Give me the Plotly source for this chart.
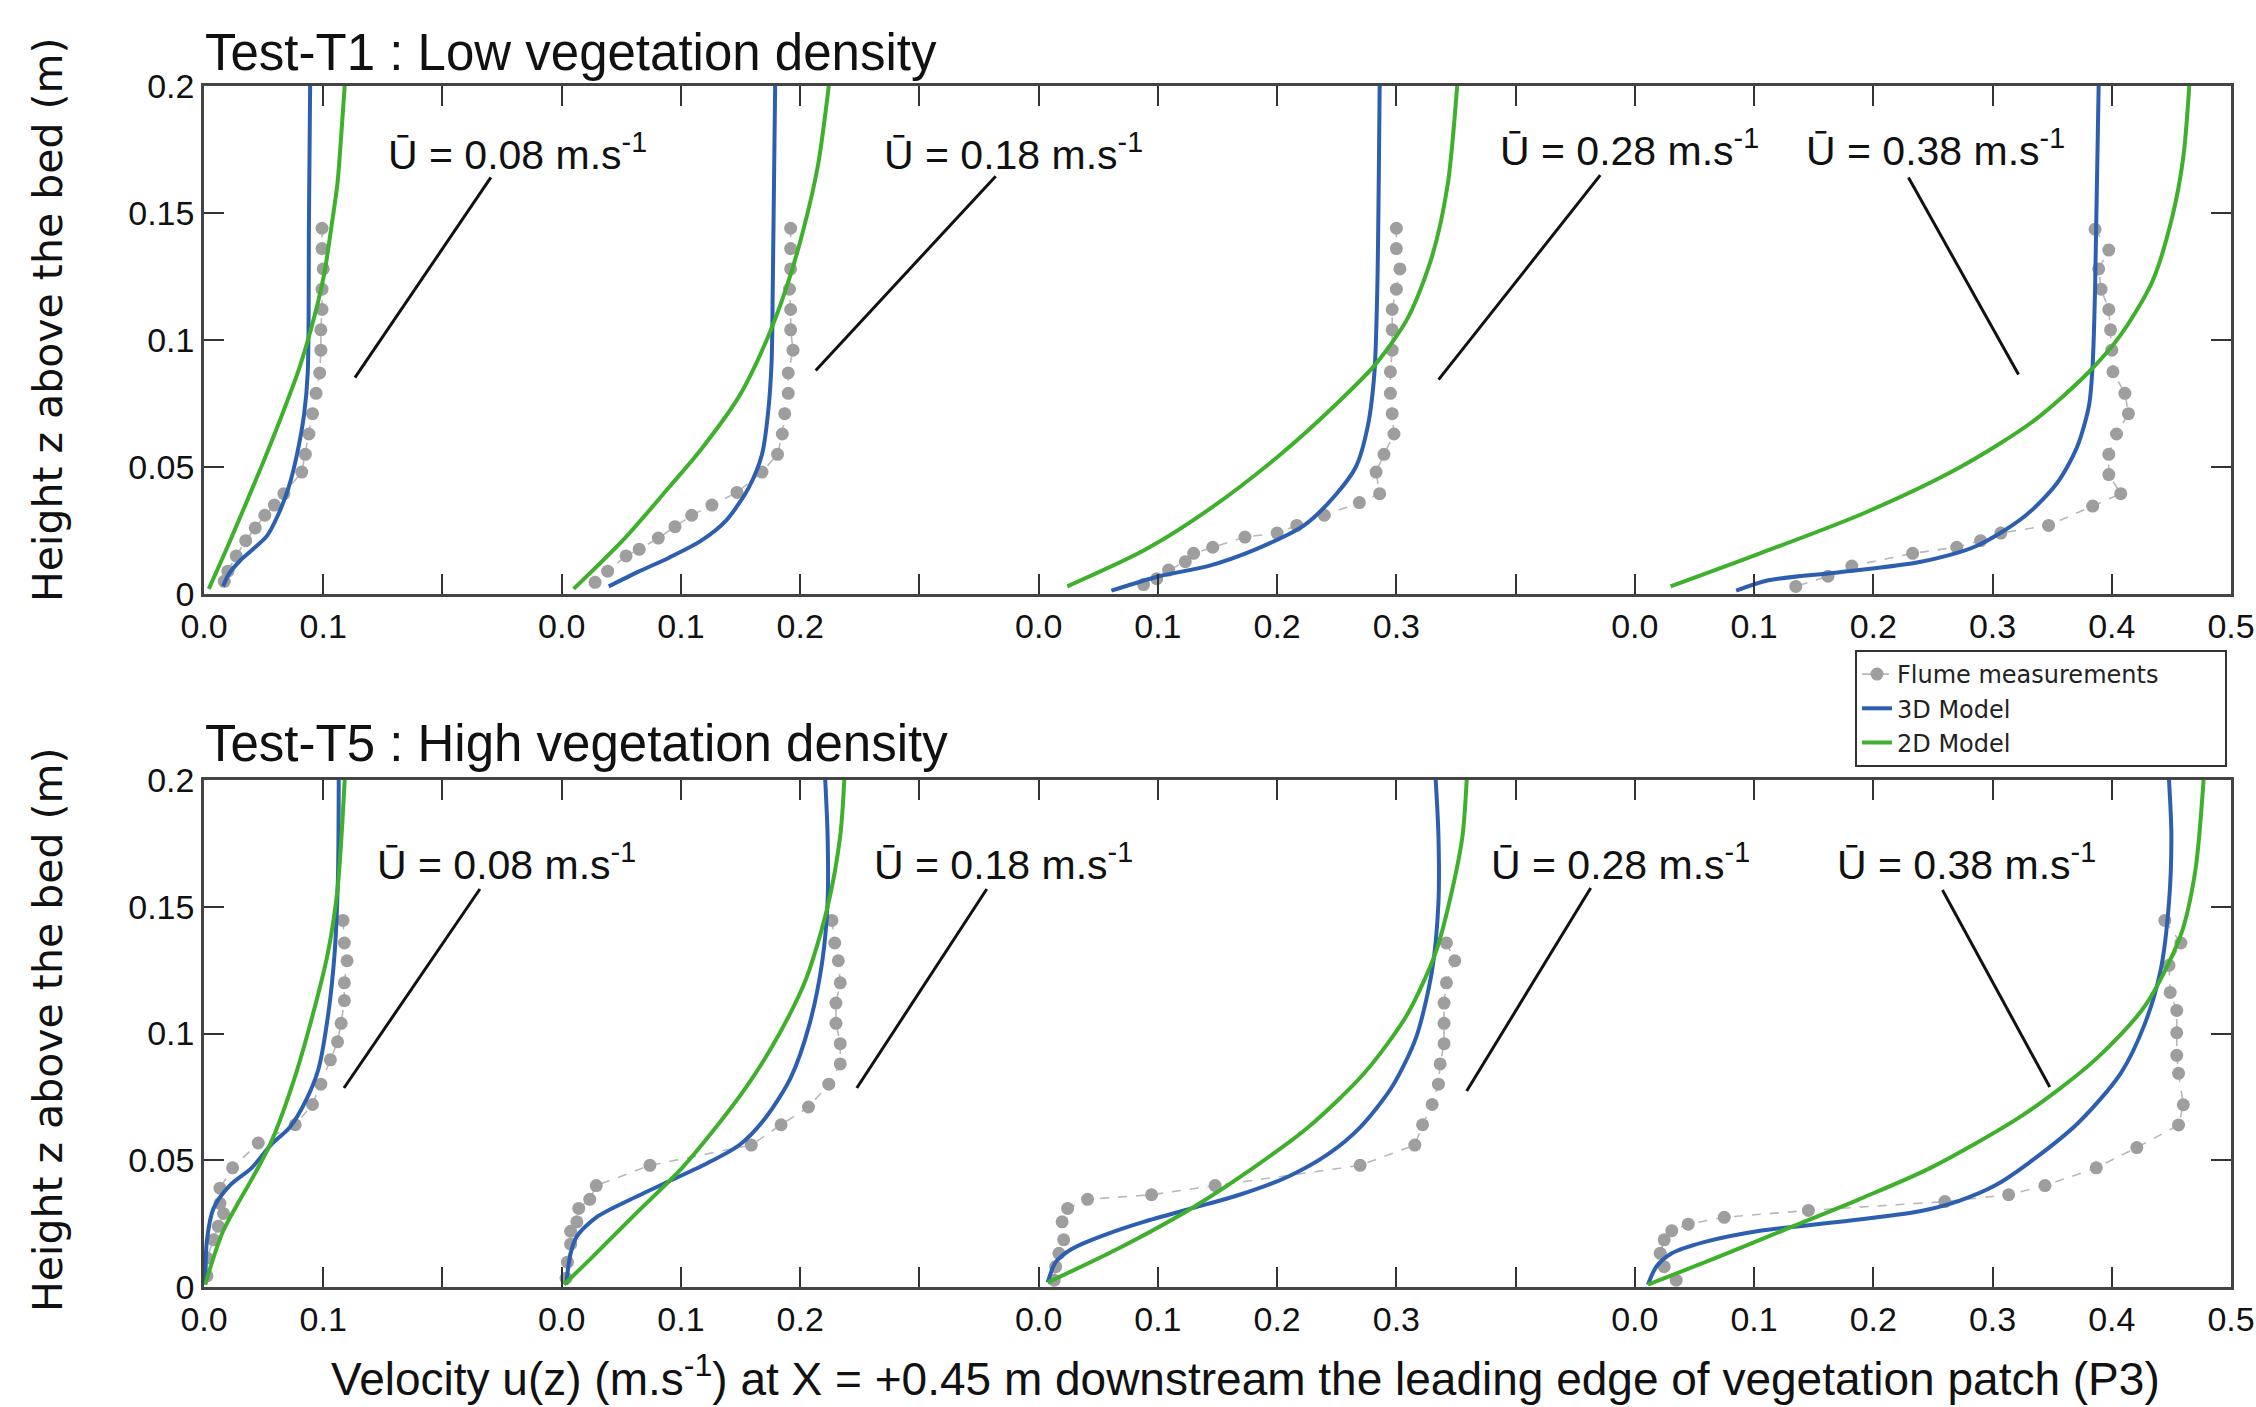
import plotly.graph_objects as go

# ---------------- data ----------------
OFFSETS = [0.0, 0.3, 0.7, 1.2]          # horizontal offset of each profile on the shared axis
U_BULK = ["0.08", "0.18", "0.28", "0.38"]

X_TICKVALS = [0.0, 0.1, 0.2, 0.3, 0.4, 0.5, 0.6, 0.7, 0.8, 0.9, 1.0, 1.1, 1.2, 1.3, 1.4, 1.5, 1.6, 1.7]
X_TICKTEXT = ["0.0", "0.1", "", "0.0", "0.1", "0.2", "", "0.0", "0.1", "0.2", "0.3", "",
              "0.0", "0.1", "0.2", "0.3", "0.4", "0.5"]
Y_TICKVALS = [0, 0.05, 0.1, 0.15, 0.2]
Y_TICKTEXT = ["0", "0.05", "0.1", "0.15", "0.2"]

# ---- Test-T1 (low density) ----
T1_P1_FLUME_Z = [0.144, 0.136, 0.128, 0.120, 0.112, 0.104, 0.096, 0.087, 0.079, 0.071, 0.063, 0.055, 0.048,
                 0.0395, 0.035, 0.031, 0.026, 0.021, 0.015, 0.009, 0.005]
T1_P1_FLUME_U = [0.099, 0.099, 0.100, 0.099, 0.099, 0.098, 0.098, 0.097, 0.094, 0.091, 0.088, 0.085, 0.082,
                 0.067, 0.059, 0.051, 0.043, 0.035, 0.027, 0.020, 0.017]
T1_P1_3D_Z = [0.003, 0.008, 0.013, 0.0176, 0.023, 0.031, 0.042, 0.055, 0.071, 0.087, 0.146, 0.2]
T1_P1_3D_U = [0.016, 0.021, 0.030, 0.041, 0.053, 0.062, 0.071, 0.078, 0.084, 0.087, 0.088, 0.089]
T1_P1_2D_Z = [0.002, 0.02, 0.05, 0.07, 0.089, 0.11, 0.1265, 0.145, 0.162, 0.18, 0.2]
T1_P1_2D_U = [0.004, 0.021, 0.048, 0.065, 0.080, 0.093, 0.101, 0.107, 0.112, 0.115, 0.118]

T1_P2_FLUME_Z = [0.144, 0.136, 0.128, 0.120, 0.112, 0.104, 0.096, 0.087, 0.079, 0.071, 0.063, 0.055, 0.048,
                 0.040, 0.035, 0.031, 0.0265, 0.022, 0.0176, 0.015, 0.009, 0.0046]
T1_P2_FLUME_U = [0.192, 0.192, 0.192, 0.191, 0.192, 0.192, 0.194, 0.190, 0.190, 0.187, 0.185, 0.181, 0.168,
                 0.147, 0.126, 0.109, 0.095, 0.081, 0.065, 0.054, 0.0385, 0.028]
T1_P2_3D_Z = [0.003, 0.0086, 0.0143, 0.021, 0.029, 0.042, 0.055, 0.071, 0.091, 0.12, 0.2]
T1_P2_3D_U = [0.0395, 0.0636, 0.090, 0.117, 0.138, 0.157, 0.168, 0.173, 0.176, 0.177, 0.179]
T1_P2_2D_Z = [0.002, 0.022, 0.042, 0.057, 0.078, 0.099, 0.12, 0.144, 0.169, 0.2]
T1_P2_2D_U = [0.010, 0.053, 0.090, 0.117, 0.149, 0.171, 0.188, 0.203, 0.215, 0.224]

T1_P3_FLUME_Z = [0.144, 0.136, 0.128, 0.120, 0.112, 0.104, 0.096, 0.0875, 0.079, 0.071, 0.063, 0.055, 0.048,
                 0.0395, 0.036, 0.031, 0.027, 0.024, 0.0224, 0.0184, 0.016, 0.0127, 0.0094, 0.006, 0.0037]
T1_P3_FLUME_U = [0.300, 0.300, 0.303, 0.300, 0.2965, 0.2965, 0.2965, 0.295, 0.295, 0.2965, 0.298, 0.2896, 0.283,
                 0.286, 0.269, 0.2396, 0.2165, 0.200, 0.173, 0.146, 0.130, 0.123, 0.109, 0.099, 0.088]
T1_P3_3D_Z = [0.0013, 0.007, 0.011, 0.0176, 0.027, 0.039, 0.050, 0.066, 0.087, 0.12, 0.2]
T1_P3_3D_U = [0.061, 0.101, 0.142, 0.182, 0.2226, 0.249, 0.266, 0.276, 0.2816, 0.284, 0.286]
T1_P3_2D_Z = [0.003, 0.0176, 0.034, 0.055, 0.0745, 0.0907, 0.109, 0.133, 0.161, 0.2]
T1_P3_2D_U = [0.024, 0.090, 0.145, 0.203, 0.249, 0.283, 0.310, 0.330, 0.343, 0.351]

T1_P4_FLUME_Z = [0.1436, 0.1354, 0.128, 0.120, 0.112, 0.104, 0.096, 0.0875, 0.079, 0.071, 0.063, 0.055, 0.047,
                 0.0395, 0.0346, 0.027, 0.024, 0.021, 0.0184, 0.016, 0.011, 0.007, 0.003]
T1_P4_FLUME_U = [0.386, 0.3975, 0.389, 0.391, 0.3975, 0.399, 0.400, 0.401, 0.411, 0.414, 0.404, 0.3975, 0.3975,
                 0.4075, 0.384, 0.347, 0.307, 0.290, 0.270, 0.233, 0.182, 0.162, 0.135]
T1_P4_3D_Z = [0.0013, 0.0054, 0.0086, 0.0127, 0.019, 0.0306, 0.0436, 0.058, 0.0745, 0.0907, 0.12, 0.2]
T1_P4_3D_U = [0.085, 0.112, 0.172, 0.240, 0.287, 0.327, 0.354, 0.371, 0.381, 0.384, 0.386, 0.389]
T1_P4_2D_Z = [0.003, 0.016, 0.032, 0.050, 0.068, 0.0875, 0.102, 0.123, 0.149, 0.172, 0.2]
T1_P4_2D_U = [0.030, 0.105, 0.193, 0.273, 0.334, 0.381, 0.4075, 0.434, 0.451, 0.460, 0.465]

# ---- Test-T5 (high density) ----
T5_P1_FLUME_Z = [0.1446, 0.1357, 0.1287, 0.120, 0.113, 0.104, 0.0967, 0.0896, 0.080, 0.072, 0.064, 0.0568,
                 0.047, 0.039, 0.033, 0.029, 0.024, 0.0186, 0.0114, 0.0044]
T5_P1_FLUME_U = [0.1166, 0.1177, 0.120, 0.1177, 0.1177, 0.115, 0.112, 0.106, 0.098, 0.091, 0.0765, 0.0455,
                 0.024, 0.0134, 0.0134, 0.0164, 0.012, 0.008, 0.0025, 0.0025]
T5_P1_3D_Z = [0.001, 0.0186, 0.031, 0.040, 0.047, 0.056, 0.063, 0.0736, 0.086, 0.107, 0.132, 0.161, 0.2]
T5_P1_3D_U = [0.001, 0.0025, 0.008, 0.0215, 0.040, 0.056, 0.072, 0.0855, 0.096, 0.104, 0.1096, 0.1123, 0.113]
T5_P1_2D_Z = [0.001, 0.022, 0.045, 0.0568, 0.081, 0.107, 0.132, 0.157, 0.2]
T5_P1_2D_U = [0.001, 0.016, 0.043, 0.056, 0.075, 0.091, 0.104, 0.112, 0.118]

T5_P2_FLUME_Z = [0.1446, 0.1357, 0.1287, 0.120, 0.112, 0.104, 0.096, 0.088, 0.080, 0.071, 0.064, 0.056, 0.048,
                 0.040, 0.0346, 0.031, 0.0257, 0.022, 0.0169, 0.0098, 0.0035]
T5_P2_FLUME_U = [0.2266, 0.229, 0.232, 0.2336, 0.230, 0.230, 0.2336, 0.2336, 0.224, 0.207, 0.184, 0.159, 0.074,
                 0.029, 0.0235, 0.0143, 0.0127, 0.0075, 0.0075, 0.0048, 0.0037]
T5_P2_3D_Z = [0.001, 0.0133, 0.020, 0.0275, 0.0346, 0.0417, 0.0488, 0.056, 0.0665, 0.0825, 0.104, 0.1287,
              0.152, 0.178, 0.2]
T5_P2_3D_U = [0.0037, 0.0075, 0.0127, 0.029, 0.058, 0.090, 0.122, 0.149, 0.1705, 0.192, 0.208, 0.2186,
              0.223, 0.223, 0.221]
T5_P2_2D_Z = [0.001, 0.0115, 0.0275, 0.047, 0.061, 0.079, 0.1003, 0.1216, 0.15, 0.178, 0.2]
T5_P2_2D_U = [0.002, 0.025, 0.059, 0.101, 0.126, 0.155, 0.183, 0.205, 0.223, 0.2336, 0.237]

T5_P3_FLUME_Z = [0.1357, 0.1287, 0.120, 0.112, 0.104, 0.096, 0.088, 0.080, 0.072, 0.064, 0.056, 0.048, 0.040,
                 0.0364, 0.0346, 0.031, 0.0257, 0.0186, 0.0133, 0.008, 0.0027]
T5_P3_FLUME_U = [0.342, 0.349, 0.342, 0.340, 0.340, 0.340, 0.3367, 0.3353, 0.330, 0.322, 0.3155, 0.2696, 0.148,
                 0.0947, 0.041, 0.0243, 0.0197, 0.021, 0.017, 0.0143, 0.013]
T5_P3_3D_Z = [0.0018, 0.0098, 0.015, 0.0204, 0.0257, 0.031, 0.0364, 0.0435, 0.0524, 0.063, 0.079, 0.0985,
              0.125, 0.1517, 0.178, 0.2]
T5_P3_3D_U = [0.0076, 0.0143, 0.0277, 0.0545, 0.088, 0.128, 0.1685, 0.209, 0.2427, 0.2696, 0.2964, 0.3166,
              0.330, 0.3353, 0.3353, 0.333]
T5_P3_2D_Z = [0.0018, 0.015, 0.031, 0.047, 0.063, 0.0843, 0.1074, 0.132, 0.157, 0.178, 0.2]
T5_P3_2D_U = [0.0076, 0.066, 0.128, 0.180, 0.226, 0.273, 0.309, 0.333, 0.347, 0.3555, 0.359]

T5_P4_FLUME_Z = [0.1446, 0.1357, 0.1269, 0.1162, 0.1091, 0.1003, 0.0914, 0.0843, 0.0719, 0.0639, 0.055, 0.047,
                 0.040, 0.0364, 0.0337, 0.0302, 0.0275, 0.0248, 0.0222, 0.0186, 0.0133, 0.008, 0.0027]
T5_P4_FLUME_U = [0.4445, 0.458, 0.448, 0.449, 0.4545, 0.4545, 0.4545, 0.456, 0.460, 0.456, 0.421, 0.387,
                 0.344, 0.3135, 0.260, 0.1456, 0.075, 0.0448, 0.031, 0.0246, 0.0213, 0.0246, 0.0347]
T5_P4_3D_Z = [0.0009, 0.008, 0.0133, 0.0177, 0.0222, 0.0257, 0.030, 0.034, 0.040, 0.0488, 0.0648, 0.0843,
              0.1038, 0.125, 0.1517, 0.178, 0.2]
T5_P4_3D_U = [0.011, 0.018, 0.031, 0.058, 0.105, 0.172, 0.240, 0.272, 0.302, 0.330, 0.372, 0.4075,
              0.4277, 0.441, 0.448, 0.450, 0.448]
T5_P4_2D_Z = [0.0009, 0.0115, 0.024, 0.0346, 0.047, 0.068, 0.0896, 0.111, 0.139, 0.164, 0.2]
T5_P4_2D_U = [0.011, 0.068, 0.133, 0.188, 0.248, 0.326, 0.386, 0.428, 0.458, 0.470, 0.477]

PANELS = {
    "T1": [
        (T1_P1_FLUME_U, T1_P1_FLUME_Z, T1_P1_3D_U, T1_P1_3D_Z, T1_P1_2D_U, T1_P1_2D_Z),
        (T1_P2_FLUME_U, T1_P2_FLUME_Z, T1_P2_3D_U, T1_P2_3D_Z, T1_P2_2D_U, T1_P2_2D_Z),
        (T1_P3_FLUME_U, T1_P3_FLUME_Z, T1_P3_3D_U, T1_P3_3D_Z, T1_P3_2D_U, T1_P3_2D_Z),
        (T1_P4_FLUME_U, T1_P4_FLUME_Z, T1_P4_3D_U, T1_P4_3D_Z, T1_P4_2D_U, T1_P4_2D_Z),
    ],
    "T5": [
        (T5_P1_FLUME_U, T5_P1_FLUME_Z, T5_P1_3D_U, T5_P1_3D_Z, T5_P1_2D_U, T5_P1_2D_Z),
        (T5_P2_FLUME_U, T5_P2_FLUME_Z, T5_P2_3D_U, T5_P2_3D_Z, T5_P2_2D_U, T5_P2_2D_Z),
        (T5_P3_FLUME_U, T5_P3_FLUME_Z, T5_P3_3D_U, T5_P3_3D_Z, T5_P3_2D_U, T5_P3_2D_Z),
        (T5_P4_FLUME_U, T5_P4_FLUME_Z, T5_P4_3D_U, T5_P4_3D_Z, T5_P4_2D_U, T5_P4_2D_Z),
    ],
}

# annotation placement (layout, in axis units): label anchor and leader line endpoints
LABELS_T1 = [(0.1526, 0.174), (0.569, 0.174), (1.085, 0.1755), (1.3415, 0.1755)]
LEADERS_T1 = [(0.1266, 0.0852, 0.2406, 0.164), (0.513, 0.088, 0.664, 0.1645),
              (1.0354, 0.0844, 1.171, 0.1649), (1.4295, 0.164, 1.5218, 0.0864)]
LABELS_T5 = [(0.1434, 0.1677), (0.560, 0.1677), (1.078, 0.1677), (1.368, 0.1677)]
LEADERS_T5 = [(0.1174, 0.0785, 0.2314, 0.157), (0.5475, 0.0785, 0.6565, 0.157),
              (1.059, 0.0773, 1.163, 0.1574), (1.458, 0.1566, 1.548, 0.0789)]

# ---------------- style ----------------
BLUE = "#2d5fb0"
GREEN = "#3fb02c"
GRAY = "#9e9e9e"
GRAY_LINE = "#b8b8b8"
FONT = "Liberation Sans, Arial, sans-serif"
WIDE = "DejaVu Sans, sans-serif"
W, H = 2256, 1407
PAD = "\u00a0" * 8

fig = go.Figure()

axes_for = {"T1": ("x", "y"), "T5": ("x2", "y2")}
first = True
for key in ["T1", "T5"]:
    xa, ya = axes_for[key]
    for off, (fu, fz, u3, z3, u2, z2) in zip(OFFSETS, PANELS[key]):
        fig.add_trace(go.Scatter(
            x=[off + v for v in fu], y=fz, mode="lines+markers", name="Flume measurements" + PAD,
            legendgroup="flume", showlegend=first, xaxis=xa, yaxis=ya,
            line=dict(color=GRAY_LINE, width=1.6, dash="dash"),
            marker=dict(color=GRAY, size=13, line=dict(width=0))))
        fig.add_trace(go.Scatter(
            x=[off + v for v in u3], y=z3, mode="lines", name="3D Model",
            legendgroup="3d", showlegend=first, xaxis=xa, yaxis=ya,
            line=dict(color=BLUE, width=4, shape="spline", smoothing=0.8)))
        fig.add_trace(go.Scatter(
            x=[off + v for v in u2], y=z2, mode="lines", name="2D Model",
            legendgroup="2d", showlegend=first, xaxis=xa, yaxis=ya,
            line=dict(color=GREEN, width=4, shape="spline", smoothing=0.8)))
        first = False

annotations = []
shapes = []
for key, labels, leaders in [("T1", LABELS_T1, LEADERS_T1), ("T5", LABELS_T5, LEADERS_T5)]:
    xa, ya = axes_for[key]
    for ub, (lx, ly), (x0, y0, x1, y1) in zip(U_BULK, labels, leaders):
        annotations.append(dict(
            x=lx, y=ly, xref=xa, yref=ya, xanchor="left", yanchor="middle", showarrow=False,
            text="Ū = " + ub + " m.s<sup>-1</sup>", font=dict(family=FONT, size=41, color="#111")))
        shapes.append(dict(type="line", xref=xa, yref=ya, x0=x0, y0=y0, x1=x1, y1=y1,
                           line=dict(color="#111", width=3)))

annotations += [
    dict(x=203 / W, y=1 - 52 / H, xref="paper", yref="paper", xanchor="left", yanchor="middle",
         showarrow=False, text="Test-T1 : Low vegetation density", font=dict(family=FONT, size=51, color="#111")),
    dict(x=203 / W, y=1 - 743 / H, xref="paper", yref="paper", xanchor="left", yanchor="middle",
         showarrow=False, text="Test-T5 : High vegetation density", font=dict(family=FONT, size=51, color="#111")),
    dict(x=48 / W, y=1 - 320 / H, xref="paper", yref="paper", xanchor="center", yanchor="middle",
         textangle=-90, showarrow=False, text="Height z above the bed (m)",
         font=dict(family=WIDE, size=41, color="#111")),
    dict(x=48 / W, y=1 - 1030 / H, xref="paper", yref="paper", xanchor="center", yanchor="middle",
         textangle=-90, showarrow=False, text="Height z above the bed (m)",
         font=dict(family=WIDE, size=41, color="#111")),
    dict(x=1245 / W, y=1 - 1376 / H, xref="paper", yref="paper", xanchor="center", yanchor="middle",
         showarrow=False,
         text="Velocity u(z) (m.s<sup>-1</sup>) at X = +0.45 m downstream the leading edge of vegetation patch (P3)",
         font=dict(family=FONT, size=46, color="#111")),
]

xcommon = dict(range=[0, 1.7], tickmode="array", tickvals=X_TICKVALS, ticktext=X_TICKTEXT,
               ticks="inside", ticklen=20, tickwidth=2, tickcolor="#333",
               showline=True, linecolor="#444", linewidth=2.5, mirror="ticks",
               showgrid=False, zeroline=False, automargin=False,
               tickfont=dict(family=FONT, size=34, color="#111"))
ycommon = dict(range=[0, 0.2], tickmode="array", tickvals=Y_TICKVALS, ticktext=Y_TICKTEXT,
               ticks="inside", ticklen=20, tickwidth=2, tickcolor="#333",
               showline=True, linecolor="#444", linewidth=2.5, mirror="ticks",
               showgrid=False, zeroline=False, automargin=False,
               tickfont=dict(family=FONT, size=34, color="#111"))

xdom = [204 / W, 2231 / W]
fig.update_layout(
    width=W, height=H, margin=dict(l=0, r=0, t=0, b=0, autoexpand=False),
    paper_bgcolor="white", plot_bgcolor="white",
    xaxis=dict(domain=xdom, anchor="y", **xcommon),
    yaxis=dict(domain=[1 - 594 / H, 1 - 86 / H], anchor="x", **ycommon),
    xaxis2=dict(domain=xdom, anchor="y2", **xcommon),
    yaxis2=dict(domain=[1 - 1287 / H, 1 - 780 / H], anchor="x2", **ycommon),
    legend=dict(x=1855 / W, y=1 - 650 / H, xanchor="left", yanchor="top",
                bordercolor="#333", borderwidth=2, bgcolor="white",
                font=dict(family=WIDE, size=24, color="#222"), tracegroupgap=0),
    annotations=annotations, shapes=shapes,
)

fig.write_html(
    "out.html",
    config={"displayModeBar": False},
    post_script="document.body.style.margin='0';document.body.style.overflow='hidden';"
                "document.documentElement.style.overflow='hidden';",
)
